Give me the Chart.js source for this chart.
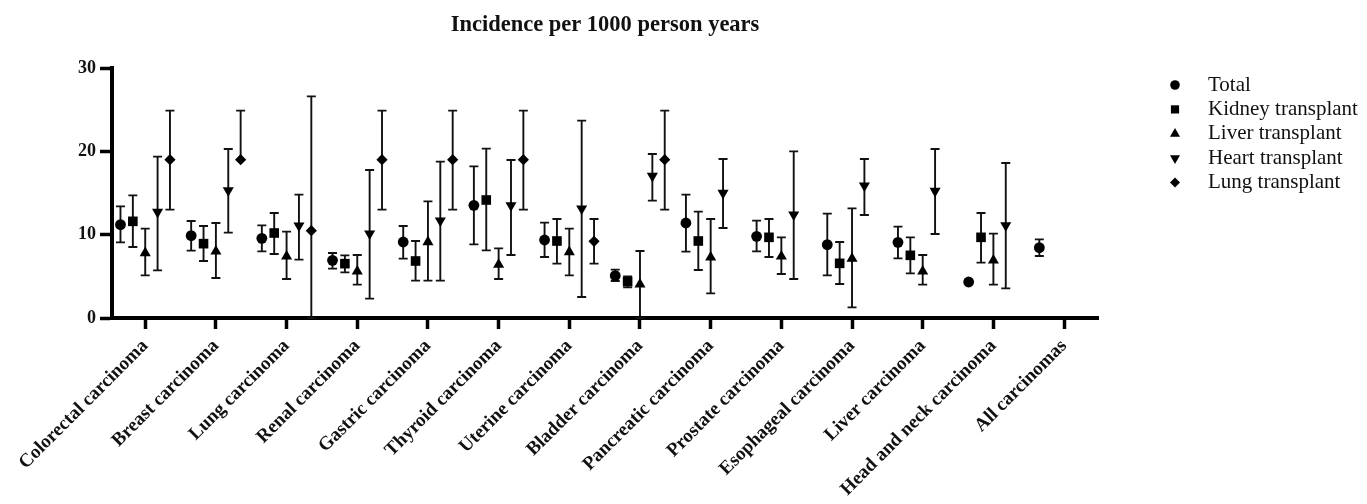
<!DOCTYPE html>
<html>
<head>
<meta charset="utf-8">
<script src="https://cdn.jsdelivr.net/npm/chart.js@4.4.1/dist/chart.umd.min.js"></script>
<style>
  html, body { margin: 0; background: #fff; }
  #wrap { width: 1367px; height: 504px; }
</style>
</head>
<body>
<div id="wrap"><canvas id="myChart"></canvas></div>
<script>
var categories = ['Colorectal carcinoma', 'Breast carcinoma', 'Lung carcinoma', 'Renal carcinoma',
  'Gastric carcinoma', 'Thyroid carcinoma', 'Uterine carcinoma', 'Bladder carcinoma',
  'Pancreatic carcinoma', 'Prostate carcinoma', 'Esophageal carcinoma', 'Liver carcinoma',
  'Head and neck carcinoma', 'All carcinomas'];

// incidence per 1000 person years, with lower / upper CI bounds
var totalRate = [11.2, 9.88, 9.56, 6.92, 9.12, 13.52, 9.36, 5.08, 11.4, 9.8, 8.8, 9.08, 4.32, 8.44];
var totalLow  = [9.08, 8.08, 8.0, 5.92, 7.12, 8.84, 7.32, 4.44, 7.96, 8.0, 5.12, 7.16, null, 7.44];
var totalHigh = [13.4, 11.64, 11.12, 7.8, 11.04, 18.2, 11.44, 5.8, 14.8, 11.68, 12.52, 10.96, null, 9.44];

var kidneyRate = [11.6, 8.92, 10.2, 6.52, 6.84, 14.16, 9.24, 4.36, 9.24, 9.68, 6.56, 7.52, 9.68, null];
var kidneyLow  = [8.52, 6.84, 7.68, 5.48, 4.48, 8.12, 6.52, 3.68, 5.76, 7.32, 4.08, 5.36, 6.64, null];
var kidneyHigh = [14.72, 11.04, 12.6, 7.52, 9.24, 20.32, 11.88, 5.0, 12.76, 11.88, 9.12, 9.68, 12.6, null];

var liverRate = [7.8, 8.0, 7.4, 5.6, 9.12, 6.4, 7.92, 4.04, 7.28, 7.4, 7.12, 5.6, 6.92, null];
var liverLow  = [5.12, 4.8, 4.68, 4.0, 4.48, 4.68, 5.12, 0, 2.96, 5.28, 1.28, 4.0, 4.0, null];
var liverHigh = [10.72, 11.4, 10.36, 7.56, 14.0, 8.36, 10.72, 8.04, 11.88, 9.68, 13.16, 7.56, 10.12, null];

var heartRate = [12.72, 15.32, 11.08, 10.12, 11.68, 13.52, 13.12, 17.04, 15.0, 12.4, 15.88, 15.24, 11.12, null];
var heartLow  = [5.72, 10.24, 7.0, 2.32, 4.48, 7.56, 2.52, 14.08, 10.8, 4.68, 12.36, 10.08, 3.56, null];
var heartHigh = [19.36, 20.28, 14.8, 17.76, 18.76, 18.96, 23.68, 19.68, 19.08, 20.0, 19.08, 20.28, 18.6, null];

var lungRate = [19.0, 19.0, 10.48, 19.0, 19.0, 19.0, 9.2, 19.0, null, null, null, null, null, null];
var lungLow  = [13.0, 19.0, 0, 13.0, 13.0, 13.0, 6.52, 13.0, null, null, null, null, null, null];
var lungHigh = [24.88, 24.88, 26.6, 24.88, 24.88, 24.88, 11.88, 24.88, null, null, null, null, null, null];

var FONT = '"Liberation Serif", "Times New Roman", serif';

// points of one group sit side by side around the category tick
function points(rate, low, high, slot) {
  var out = [];
  rate.forEach(function (v, i) {
    if (v == null) return;
    out.push({ x: i + (slot - 2) * 0.175, y: v, lo: low[i], hi: high[i] });
  });
  return out;
}

function series(label, rate, low, high, slot, style, rotation, radius, legendRadius) {
  return {
    label: label,
    data: points(rate, low, high, slot),
    pointStyle: style,
    pointRotation: rotation,
    pointRadius: radius,
    legendRadius: legendRadius,
    backgroundColor: '#000',
    borderColor: '#000',
    borderWidth: 0,
    showLine: false
  };
}

var errorBars = {
  id: 'errorBars',
  beforeDatasetsDraw: function (chart) {
    var ctx = chart.ctx, xs = chart.scales.x, ys = chart.scales.y;
    ctx.save();
    ctx.strokeStyle = '#111';
    ctx.lineWidth = 1.9;
    chart.data.datasets.forEach(function (ds) {
      ds.data.forEach(function (p) {
        if (p.lo == null || p.hi == null) return;
        var x = xs.getPixelForValue(p.x);
        var yt = ys.getPixelForValue(p.hi);
        var yb = ys.getPixelForValue(p.lo);
        ctx.beginPath();
        ctx.moveTo(x, yt);
        ctx.lineTo(x, yb);
        ctx.moveTo(x - 4.5, yt);
        ctx.lineTo(x + 4.5, yt);
        if (p.lo !== p.y) {
          ctx.moveTo(x - 4.5, yb);
          ctx.lineTo(x + 4.5, yb);
        }
        ctx.stroke();
      });
    });
    ctx.restore();
  }
};

// legend list to the right of the plot
var sideLegend = {
  id: 'sideLegend',
  afterDraw: function (chart) {
    var ctx = chart.ctx, area = chart.chartArea;
    ctx.save();
    ctx.font = '21px ' + FONT;
    ctx.textBaseline = 'middle';
    ctx.textAlign = 'left';
    chart.data.datasets.forEach(function (ds, i) {
      var y = area.top + 17 + i * 24.4;
      ctx.fillStyle = '#000';
      ctx.strokeStyle = '#000';
      Chart.helpers.drawPoint(ctx, {
        pointStyle: ds.pointStyle,
        rotation: ds.pointRotation || 0,
        radius: ds.legendRadius,
        borderWidth: 0
      }, area.right + 77, y);
      ctx.fillStyle = '#111';
      ctx.fillText(ds.label, area.right + 110, y);
    });
    ctx.restore();
  }
};

var ctx = document.getElementById('myChart').getContext('2d');

var chart = new Chart(ctx, {
  type: 'scatter',
  data: {
    datasets: [
      series('Total', totalRate, totalLow, totalHigh, 0, 'circle', 0, 5.4, 4.8),
      series('Kidney transplant', kidneyRate, kidneyLow, kidneyHigh, 1, 'rect', 0, 6.8, 5.8),
      series('Liver transplant', liverRate, liverLow, liverHigh, 2, 'triangle', 0, 6.4, 5.8),
      series('Heart transplant', heartRate, heartLow, heartHigh, 3, 'triangle', 180, 6.4, 5.8),
      series('Lung transplant', lungRate, lungLow, lungHigh, 4, 'rectRot', 0, 5.6, 5)
    ]
  },
  options: {
    responsive: true,
    maintainAspectRatio: false,
    animation: false,
    layout: { padding: { left: 0, right: 269, top: 0, bottom: 0 } },
    plugins: {
      legend: { display: false },
      tooltip: { enabled: false },
      title: {
        display: true,
        fullSize: false,
        text: 'Incidence per 1000 person years',
        color: '#111',
        font: { family: FONT, size: 22.5, weight: 'bold' },
        padding: { top: 12, bottom: 29 }
      }
    },
    scales: {
      x: {
        type: 'linear',
        min: -0.47,
        max: 13.48,
        afterBuildTicks: function (scale) {
          scale.ticks = categories.map(function (c, i) { return { value: i }; });
        },
        afterFit: function (scale) {
          scale.height = 186;
          scale.paddingLeft = 0;
          scale.paddingRight = 0;
        },
        grid: { drawOnChartArea: false, tickLength: 11, tickWidth: 3.5, tickColor: '#000' },
        border: { display: true, color: '#000', width: 4 },
        ticks: {
          autoSkip: false,
          minRotation: 45,
          maxRotation: 45,
          padding: 6,
          color: '#111',
          font: { family: FONT, size: 19, weight: 'bold' },
          callback: function (v) { return categories[v]; }
        }
      },
      y: {
        min: 0,
        max: 30,
        afterFit: function (scale) { scale.width = 112; },
        grid: { drawOnChartArea: false, tickLength: 12, tickWidth: 3.5, tickColor: '#000' },
        border: { display: true, color: '#000', width: 4 },
        ticks: {
          stepSize: 10,
          padding: 4,
          color: '#111',
          font: { family: FONT, size: 18, weight: 'bold' }
        }
      }
    }
  },
  plugins: [errorBars, sideLegend]
});
</script>
</body>
</html>
